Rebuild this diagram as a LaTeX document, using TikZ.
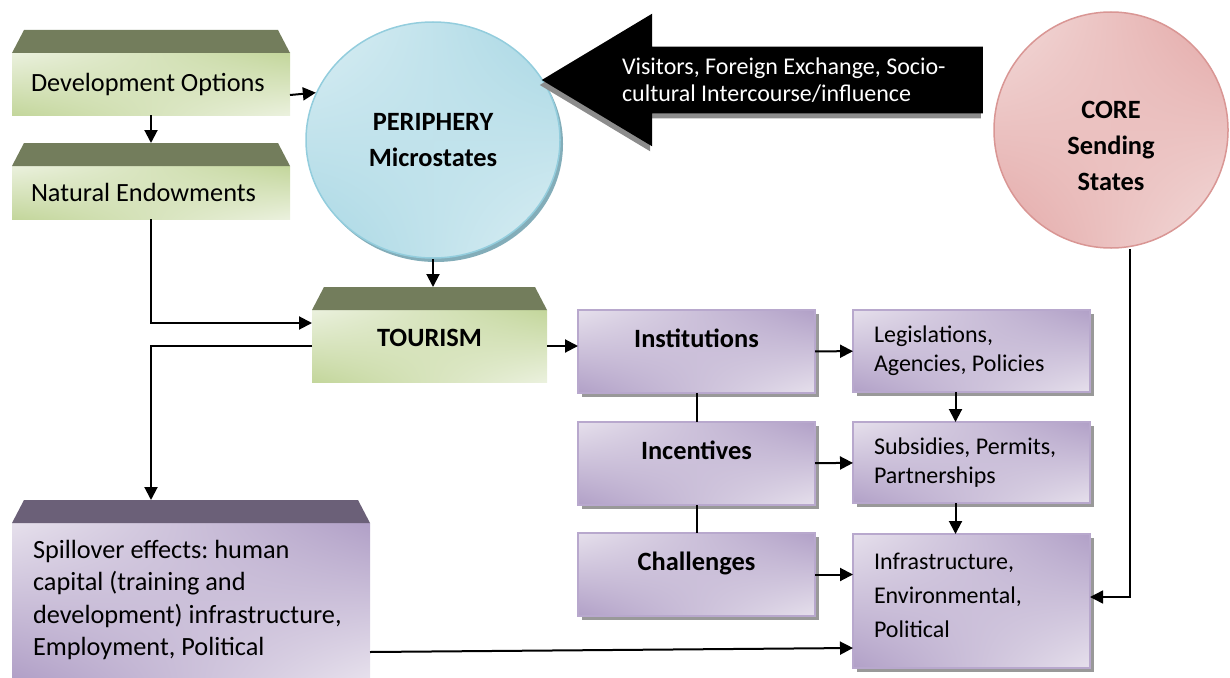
\documentclass[tikz,border=0pt]{standalone}
\usepackage{fontspec}
\setmainfont{Carlito}
\usepackage{xcolor}
\usetikzlibrary{shapes,shapes.geometric,shapes.arrows,positioning,shadows,shadings,arrows.meta}
\frenchspacing

\definecolor{gtop}{HTML}{737D5C}
\definecolor{glight}{HTML}{EBF1DE}
\definecolor{gdark}{HTML}{C3D69B}
\definecolor{ptop}{HTML}{6B6078}
\definecolor{plight}{HTML}{E6E0EC}
\definecolor{pdark}{HTML}{B1A0C7}
\definecolor{pedge}{HTML}{B8A8CD}
\definecolor{blight}{HTML}{DCEFF4}
\definecolor{bdark}{HTML}{A6D6E3}
\definecolor{bedge}{HTML}{93CDDD}
\definecolor{rlight}{HTML}{F3DDDC}
\definecolor{rdark}{HTML}{E3A6A5}
\definecolor{redge}{HTML}{D99694}

\tikzset{
  >={Triangle[length=13pt,width=13pt]},
  lid/.style={minimum height=23pt, inner sep=0pt, outer sep=0pt,
    path picture={\fill[#1] (path picture bounding box.south west) -- ([xshift=12pt]path picture bounding box.north west)
      -- ([xshift=-12pt]path picture bounding box.north east) -- (path picture bounding box.south east) -- cycle;}},
  greenbox/.style={upper left=glight, lower right=glight, upper right=gdark, lower left=gdark, inner sep=0pt, outer sep=0pt},
  purplebox/.style={draw=pedge, line width=1.5pt, upper left=plight, lower right=plight, upper right=pdark, lower left=pdark,
    drop shadow={shadow xshift=4pt, shadow yshift=-4pt, fill=black!40, opacity=1}, minimum width=237pt, outer sep=0pt},
  headtext/.style={font=\bfseries\fontsize{26.4}{30}\selectfont, text height=25pt, text depth=34pt, inner ysep=12pt},
  sidetext/.style={text width=195pt, align=flush left, inner xsep=21pt, inner ysep=0pt, font=\fontsize{24}{29}\selectfont},
  lefttext/.style={text width=240pt, align=flush left, inner xsep=19pt, font=\fontsize{26.3}{32}\selectfont}
}

\begin{document}
\begin{tikzpicture}[x=1pt,y=-1pt,line width=2pt]
\useasboundingbox (0,0) rectangle (1230,677);
       % left column
       \node (dev) [greenbox, lefttext, minimum height=62pt, anchor=north west] at (12,53) {Development Options};
       \node (devlid) [lid=gtop, minimum width=278pt, above=0pt of dev] {};
       \node (nat) [greenbox, lefttext, minimum height=53pt, below=51pt of dev.south west, anchor=north west] {Natural Endowments};
       \node (natlid) [lid=gtop, minimum width=278pt, above=0pt of nat] {};
       \node (spill) [upper left=plight, lower right=plight, upper right=pdark, lower left=pdark, outer sep=0pt,
              text width=316pt, align=flush left, inner xsep=21pt, minimum height=154pt, font=\fontsize{26.3}{32.3}\selectfont,
              anchor=north west] at (12,523)
              {Spillover effects: human\\capital (training and\\development) infrastructure,\\Employment, Political};
       \node (spilllid) [lid=ptop, minimum width=358pt, above=0pt of spill] {};

       % periphery, flow and core
       \node (peri) [ellipse, draw=bedge, line width=1.5pt, upper left=blight, lower right=blight, upper right=bdark, lower left=bdark,
              drop shadow={shadow xshift=3pt, shadow yshift=-4pt, fill=bedge!80!black!90, opacity=1},
              minimum width=254pt, minimum height=236pt, align=center, font=\bfseries\fontsize{26.4}{36}\selectfont] at (433,140)
              {PERIPHERY\\Microstates};
       \node (flow) [single arrow, shape border rotate=180, fill=black, text=white, single arrow head extend=33pt, single arrow tip angle=62,
              minimum height=441pt, inner ysep=10pt, text width=336pt, align=flush left, font=\fontsize{24}{27}\selectfont,
              drop shadow={shadow xshift=-2pt, shadow yshift=-5pt, fill=black!45, opacity=1}] at (790,80)
              {Visitors, Foreign Exchange, Socio-\\cultural Intercourse/influence};
       \node (core) [ellipse, draw=redge, line width=1.5pt, upper left=rlight, lower right=rlight, upper right=rdark, lower left=rdark,
              minimum width=234pt, minimum height=236pt,
              label={[yshift=-16pt, align=center, font=\bfseries\fontsize{26.4}{36}\selectfont]center:CORE\\Sending\\States}] at (1111,130) {};

       % tourism and what follows from it
       \node (tour) [greenbox, minimum width=235pt, minimum height=72pt, font=\bfseries\fontsize{26.4}{30}\selectfont,
              text height=24.5pt, text depth=23.5pt, inner ysep=12pt, anchor=north west] at (312,310) {TOURISM};
       \node (tourlid) [lid=gtop, minimum width=235pt, above=0pt of tour] {};
       \node (inst) [purplebox, headtext, anchor=north west] at (578,310) {Institutions};
       \node (inc) [purplebox, headtext, below=29pt of inst] {Incentives};
       \node (chal) [purplebox, headtext, below=28pt of inc] {Challenges};
       \node (leg) [purplebox, sidetext, minimum height=82pt, anchor=north west] at (853,310) {Legislations,\\Agencies, Policies};
       \node (sub) [purplebox, sidetext, minimum height=81pt, below=30pt of leg] {Subsidies, Permits,\\Partnerships};
       \node (infra) [purplebox, sidetext, minimum height=134pt, below=31pt of sub, font=\fontsize{24}{34}\selectfont, text depth=80pt]
              {Infrastructure,\\Environmental,\\Political};

        \path[->]
        (dev) edge (natlid)
        ([yshift=-11pt]dev.east) edge (peri.158)
        (peri.south) edge (peri.south |- tourlid.north)
        (tour.east) edge (tour.east -| inst.west)
        (inst) edge (leg)
        (inc) edge (sub)
        (chal.east) edge (chal.east -| infra.west)
        ([xshift=-16pt]leg.south) edge ([xshift=-16pt]sub.north)
        ([xshift=-16pt]sub.south) edge ([xshift=-16pt]infra.north)
        ([yshift=-52pt]spill.east) edge ([yshift=-47pt]infra.west);
        \draw[->] (nat) |- ([yshift=23pt]tour.west);
        \draw[->] (tour.west) -| (nat.south |- spilllid.north);
        \draw (inst) -- (inc) (inc) -- (chal);
        \draw[->, line width=1.5pt] ([xshift=19pt]core.south) |- ([yshift=4pt]infra.east);
    \end{tikzpicture}
\end{document}
